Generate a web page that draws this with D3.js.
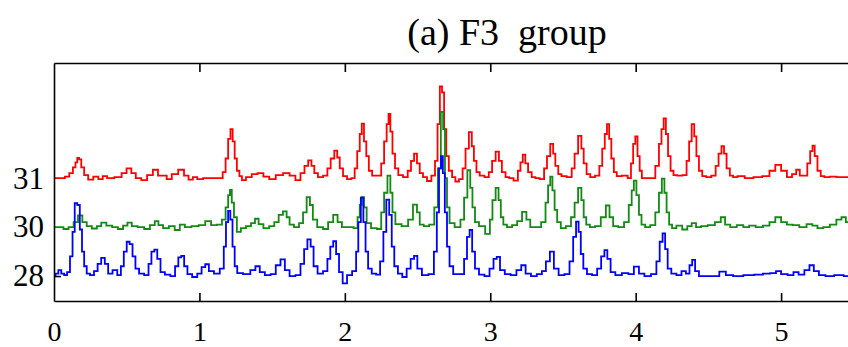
<!DOCTYPE html>
<html>
<head>
<meta charset="utf-8">
<script src="https://cdn.jsdelivr.net/npm/d3@7"></script>
<style>
  html, body { margin: 0; padding: 0; background: #fff; }
  svg { display: block; }
  text { font-family: "Liberation Serif", "DejaVu Serif", serif; }
</style>
</head>
<body>
<svg id="chart"></svg>
<script>
// chart values
const title = "(a) F3  group";
const xTicks = [0, 1, 2, 3, 4, 5];
const traceLabels = ["28", "30", "31"];   // y tick labels, bottom to top
const traceOffsets = [0, 1, 2];            // baseline of each trace
const traceColors = ["#0000ff", "#138a13", "#ff0000"];

// [x, amplitude above the trace baseline]
const red = [[0,0],[0.06,0],[0.09,0.03],[0.12,0.1],[0.14,0.22],[0.155,0.32],[0.165,0.41],[0.18,0.38],[0.195,0.22],[0.22,0.06],[0.25,-0.03],[0.29,0.03],[0.32,-0.02],[0.35,0.04],[0.38,0],[0.45,0.02],[0.48,0.1],[0.518,0.2],[0.545,0.1],[0.58,0],[0.62,-0.04],[0.66,0.06],[0.70,0.17],[0.73,0.05],[0.76,0.05],[0.79,-0.02],[0.83,0.08],[0.878,0.17],[0.91,0.05],[0.94,-0.03],[0.97,0.02],[1.0,-0.02],[1.05,0],[1.15,0],[1.17,0.12],[1.19,0.4],[1.205,0.8],[1.222,1.0],[1.235,0.75],[1.25,0.4],[1.265,0.15],[1.285,0.04],[1.3,-0.04],[1.34,0.02],[1.38,0.08],[1.42,0.1],[1.46,0.03],[1.5,-0.02],[1.55,0.06],[1.6,0.1],[1.64,0.05],[1.68,-0.04],[1.71,0.1],[1.735,0.25],[1.761,0.36],[1.78,0.25],[1.8,0.1],[1.83,0.02],[1.87,0.05],[1.89,0.2],[1.915,0.4],[1.94,0.56],[1.955,0.42],[1.975,0.2],[2.0,0.04],[2.03,-0.02],[2.06,0],[2.075,0.2],[2.095,0.55],[2.11,0.9],[2.123,1.11],[2.14,0.75],[2.155,0.45],[2.175,0.15],[2.2,0.05],[2.24,0.05],[2.26,0.3],[2.28,0.75],[2.295,1.1],[2.306,1.31],[2.32,0.95],[2.335,0.5],[2.355,0.2],[2.38,0.06],[2.42,0.02],[2.445,0.15],[2.465,0.35],[2.487,0.5],[2.505,0.3],[2.525,0.1],[2.55,0.02],[2.58,-0.06],[2.61,0.05],[2.63,0.35],[2.645,1.1],[2.662,1.87],[2.675,1.75],[2.69,1.0],[2.705,0.45],[2.725,0.15],[2.75,0.02],[2.77,-0.07],[2.8,-0.02],[2.82,0.2],[2.84,0.6],[2.866,0.94],[2.88,0.65],[2.895,0.35],[2.915,0.12],[2.94,0.05],[2.98,0.02],[3.0,0.12],[3.025,0.35],[3.049,0.54],[3.07,0.35],[3.09,0.12],[3.12,0.02],[3.14,0],[3.18,-0.05],[3.2,0.15],[3.215,0.32],[3.232,0.48],[3.25,0.3],[3.27,0.12],[3.3,0.02],[3.32,0],[3.36,-0.02],[3.38,0.2],[3.4,0.45],[3.425,0.70],[3.44,0.5],[3.455,0.25],[3.48,0.08],[3.5,0.04],[3.55,0.02],[3.57,0.2],[3.59,0.5],[3.618,0.86],[3.635,0.6],[3.65,0.3],[3.675,0.08],[3.7,0.02],[3.74,0.05],[3.76,0.25],[3.78,0.6],[3.795,0.9],[3.81,1.10],[3.825,0.8],[3.84,0.4],[3.86,0.12],[3.88,0.04],[3.93,0.05],[3.96,0],[3.975,0.3],[3.99,0.7],[4.005,0.85],[4.02,0.45],[4.035,0.15],[4.05,0],[4.12,0],[4.15,0.25],[4.17,0.7],[4.185,1.0],[4.2,1.22],[4.215,0.9],[4.23,0.45],[4.25,0.15],[4.27,0.06],[4.3,0.05],[4.34,0.06],[4.36,0.35],[4.375,0.75],[4.395,1.10],[4.41,0.85],[4.425,0.45],[4.445,0.15],[4.47,0.04],[4.5,0.02],[4.54,0.05],[4.56,0.25],[4.58,0.5],[4.6,0.65],[4.615,0.5],[4.635,0.2],[4.66,0.05],[4.68,0.02],[4.72,0.04],[4.78,0],[4.84,0.02],[4.9,0.04],[4.94,0.15],[4.98,0.27],[5.02,0.15],[5.06,0.02],[5.09,0.08],[5.117,0.17],[5.14,0.05],[5.17,0.05],[5.19,0.3],[5.21,0.55],[5.222,0.66],[5.24,0.45],[5.26,0.15],[5.285,0.04],[5.31,0.02],[5.36,0.03],[5.4,0.02],[5.46,0.02]];

const green = [[0,0],[0.05,0],[0.08,-0.04],[0.12,0],[0.15,0.1],[0.18,0.24],[0.21,0.1],[0.24,0.02],[0.28,-0.03],[0.31,0.02],[0.34,0.09],[0.38,0.03],[0.42,0],[0.46,-0.04],[0.49,0.03],[0.52,0.09],[0.55,0.02],[0.6,0],[0.64,-0.04],[0.68,0.04],[0.706,0.12],[0.73,0.04],[0.77,-0.02],[0.81,0.02],[0.85,-0.06],[0.88,0.05],[0.92,0.0],[0.97,0.02],[1.02,0.04],[1.06,0.12],[1.1,0.04],[1.14,0.05],[1.17,0.15],[1.19,0.4],[1.205,0.65],[1.215,0.76],[1.23,0.5],[1.245,0.2],[1.27,-0.1],[1.3,-0.02],[1.34,0.02],[1.37,0.08],[1.394,0.17],[1.42,0.06],[1.46,-0.02],[1.5,0.02],[1.53,0.1],[1.56,0.25],[1.589,0.32],[1.61,0.2],[1.63,0.05],[1.67,0],[1.7,0.08],[1.725,0.3],[1.75,0.61],[1.77,0.45],[1.79,0.15],[1.83,0],[1.87,-0.04],[1.9,0.1],[1.94,0.25],[1.96,0.1],[2.0,0],[2.04,0],[2.08,-0.02],[2.095,0.2],[2.11,0.45],[2.123,0.61],[2.14,0.4],[2.16,0.08],[2.2,-0.02],[2.24,-0.04],[2.26,0.3],[2.28,0.7],[2.306,1.05],[2.32,0.7],[2.335,0.3],[2.36,0.06],[2.42,0.02],[2.45,0.15],[2.487,0.46],[2.505,0.3],[2.525,0.05],[2.56,0.02],[2.6,0.05],[2.63,0.4],[2.65,1.2],[2.67,2.35],[2.682,2.0],[2.695,1.0],[2.71,0.4],[2.73,0.08],[2.78,0],[2.81,0.15],[2.83,0.6],[2.855,1.16],[2.87,0.8],[2.885,0.4],[2.905,0.1],[2.94,0.02],[2.99,-0.14],[3.005,0.15],[3.025,0.55],[3.049,0.8],[3.065,0.55],[3.08,0.2],[3.1,0.05],[3.13,0],[3.17,0.04],[3.2,0.12],[3.237,0.31],[3.26,0.15],[3.29,0],[3.33,0],[3.37,0.1],[3.39,0.5],[3.405,0.85],[3.42,1.03],[3.435,0.75],[3.45,0.35],[3.47,0.1],[3.5,-0.02],[3.54,0.02],[3.57,0.2],[3.59,0.5],[3.618,0.8],[3.635,0.55],[3.65,0.2],[3.67,0.05],[3.7,0],[3.74,0.02],[3.78,0.2],[3.81,0.44],[3.83,0.2],[3.86,0.02],[3.9,0],[3.94,0.1],[3.965,0.45],[3.98,0.75],[3.995,0.95],[4.015,0.65],[4.03,0.25],[4.05,0.05],[4.08,0],[4.12,0.04],[4.15,0.3],[4.17,0.7],[4.19,0.99],[4.205,0.7],[4.22,0.3],[4.24,0.05],[4.26,-0.02],[4.3,0.03],[4.34,-0.05],[4.37,0.02],[4.40,0.08],[4.43,0],[4.47,0.02],[4.52,0.04],[4.57,0.1],[4.60,0.2],[4.63,0.05],[4.67,0],[4.72,0.04],[4.76,0],[4.8,0.03],[4.85,0],[4.9,0.03],[4.94,0.1],[4.98,0.2],[5.02,0.1],[5.06,0.05],[5.1,0.04],[5.15,0],[5.2,0.06],[5.23,0.03],[5.27,-0.02],[5.31,0],[5.36,0.05],[5.4,0.15],[5.43,0.2],[5.46,0.1]];

const blue = [[0,0],[0.02,0.05],[0.04,0.12],[0.06,0.05],[0.08,0.02],[0.1,0.08],[0.12,0.4],[0.135,0.9],[0.15,1.49],[0.17,1.45],[0.185,0.95],[0.2,0.5],[0.215,0.2],[0.235,0.05],[0.26,0.02],[0.29,0.1],[0.31,0.25],[0.339,0.37],[0.36,0.25],[0.385,0.05],[0.42,0.12],[0.45,0.02],[0.47,0.2],[0.49,0.5],[0.51,0.7],[0.53,0.65],[0.55,0.4],[0.57,0.15],[0.6,0.05],[0.64,0.02],[0.66,0.25],[0.68,0.5],[0.70,0.54],[0.72,0.35],[0.745,0.08],[0.78,0.03],[0.82,0.0],[0.845,0.2],[0.865,0.38],[0.885,0.41],[0.905,0.2],[0.93,0.04],[0.97,-0.02],[1.0,0.05],[1.03,0.18],[1.05,0.24],[1.08,0.1],[1.12,0.05],[1.16,0.15],[1.175,0.6],[1.19,1.1],[1.205,1.33],[1.22,1.15],[1.235,0.6],[1.25,0.2],[1.27,0.06],[1.33,0.04],[1.37,0.12],[1.40,0.2],[1.43,0.08],[1.47,0.02],[1.51,0.04],[1.54,0.22],[1.575,0.34],[1.6,0.12],[1.64,0.0],[1.68,0.02],[1.71,0.25],[1.73,0.55],[1.755,0.75],[1.775,0.6],[1.795,0.2],[1.83,0.05],[1.87,0.1],[1.89,0.35],[1.91,0.6],[1.93,0.71],[1.95,0.45],[1.97,0.08],[2.0,-0.15],[2.03,0.02],[2.07,0.1],[2.085,0.5],[2.1,1.1],[2.12,1.6],[2.135,1.1],[2.15,0.5],[2.17,0.15],[2.2,0.05],[2.23,0.03],[2.255,0.3],[2.275,0.9],[2.295,1.56],[2.315,1.25],[2.33,0.6],[2.35,0.2],[2.38,0.05],[2.41,-0.02],[2.44,0.15],[2.465,0.35],[2.487,0.41],[2.51,0.15],[2.55,0.02],[2.6,0.04],[2.625,0.5],[2.64,1.3],[2.655,2.2],[2.668,2.45],[2.68,2.1],[2.695,1.3],[2.71,0.6],[2.73,0.2],[2.76,0.04],[2.81,0.04],[2.83,0.35],[2.85,0.8],[2.866,0.94],[2.885,0.5],[2.905,0.15],[2.94,0.03],[2.98,0.0],[3.01,0.15],[3.035,0.35],[3.054,0.39],[3.08,0.12],[3.12,0.04],[3.16,0.02],[3.2,0.12],[3.226,0.22],[3.26,0.05],[3.3,0.0],[3.34,0.04],[3.37,0.1],[3.395,0.3],[3.425,0.5],[3.45,0.15],[3.49,0.02],[3.53,0.04],[3.56,0.3],[3.58,0.8],[3.6,1.11],[3.615,0.9],[3.63,0.45],[3.65,0.15],[3.68,0.04],[3.72,0.02],[3.75,0.15],[3.775,0.4],[3.795,0.53],[3.815,0.35],[3.84,0.08],[3.88,0.02],[3.93,0.06],[3.97,0.04],[4.005,0.19],[4.04,0.05],[4.08,0.0],[4.13,0.04],[4.155,0.3],[4.175,0.7],[4.195,0.87],[4.21,0.55],[4.23,0.15],[4.26,0.05],[4.3,0.02],[4.33,0.1],[4.36,0.05],[4.38,0.22],[4.397,0.33],[4.42,0.1],[4.45,0.0],[4.5,0.0],[4.55,0.0],[4.6,0.09],[4.64,0.02],[4.7,0.0],[4.78,0.02],[4.85,0.03],[4.9,0.05],[4.95,0.06],[4.98,0.1],[5.02,0.04],[5.07,0.02],[5.1,0.08],[5.14,0.03],[5.18,0.12],[5.21,0.22],[5.24,0.1],[5.28,0.02],[5.33,0.0],[5.4,0.02],[5.46,0.0]];

// drawn bottom to top so blue sits on top, like the original
const traces = [red, green, blue];
const traceIndex = [2, 1, 0];

// dimensions
const W = 848, H = 347;
const margin = { top: 63, right: 0, bottom: 46, left: 54 };
const width = W - margin.left - margin.right;
const height = H - margin.top - margin.bottom;

const svg = d3.select("#chart").attr("width", W).attr("height", H);

svg.append("text")
  .attr("x", 507).attr("y", 45)
  .attr("text-anchor", "middle")
  .attr("font-family", "Liberation Serif")
  .style("font-size", "38px")
  .style("white-space", "pre")
  .text(title);

const g = svg.append("g")
  .attr("transform", "translate(" + margin.left + "," + margin.top + ")");

const x = d3.scaleLinear().domain([0, 5.46]).range([0, width]);
const y = d3.scaleLinear().domain([-0.51, 4.35]).range([height, 0]);

g.append("clipPath").attr("id", "plotclip")
  .append("rect").attr("width", width).attr("height", height);

// stepped, like the sampled spectra in the original
const line = d3.line()
  .curve(d3.curveStep)
  .x(d => x(d[0]))
  .y(d => y(d[1]));

traces.forEach((tr, i) => {
  const k = traceIndex[i];
  g.append("path")
    .attr("clip-path", "url(#plotclip)")
    .attr("d", line(tr.map(p => [p[0], p[1] + traceOffsets[k]])))
    .attr("fill", "none")
    .attr("stroke", traceColors[k])
    .attr("stroke-width", 1.8);
});

// bottom axis, ticks pointing inward
const xAxis = g.append("g")
  .attr("transform", "translate(0," + height + ")")
  .call(d3.axisBottom(x).tickValues(xTicks).tickFormat(d3.format("d"))
    .tickSizeInner(-8).tickSizeOuter(0).tickPadding(20));
xAxis.select(".domain").attr("stroke-width", 1.6);
xAxis.selectAll(".tick line").attr("stroke-width", 1.6)
  .filter(d => d === 0).remove();
xAxis.selectAll("text")
  .attr("font-family", "Liberation Serif").style("font-size", "28px").attr("fill", "#000");

// top axis, ticks only
const topAxis = g.append("g")
  .call(d3.axisTop(x).tickValues(xTicks.slice(1)).tickFormat("")
    .tickSizeInner(-9).tickSizeOuter(0));
topAxis.select(".domain").attr("stroke-width", 1.6);
topAxis.selectAll(".tick line").attr("stroke-width", 1.6);

// left axis with trace labels
const yAxis = g.append("g")
  .call(d3.axisLeft(y).tickValues(traceOffsets).tickFormat((d, i) => traceLabels[i])
    .tickSizeInner(-7).tickSizeOuter(0).tickPadding(10));
yAxis.select(".domain").attr("stroke-width", 1.6);
yAxis.selectAll(".tick line").attr("stroke-width", 1.6)
  .filter(d => d !== 0).remove();
yAxis.selectAll("text")
  .attr("font-family", "Liberation Serif").style("font-size", "31px").attr("fill", "#000");
</script>
</body>
</html>
